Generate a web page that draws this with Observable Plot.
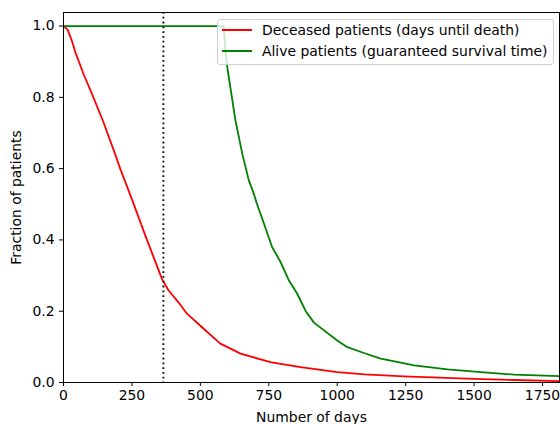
<!DOCTYPE html>
<html>
<head>
<meta charset="utf-8">
<script src="https://cdn.jsdelivr.net/npm/d3@7"></script>
<script src="https://cdn.jsdelivr.net/npm/@observablehq/plot@0.6"></script>
<style>
  html, body { margin: 0; padding: 0; background: white; }
  #wrap { position: relative; width: 560px; height: 424px; overflow: hidden; font-family: "DejaVu Sans", sans-serif; }
  #legend { position: absolute; left: 217px; top: 19px; width: 337px; height: 46px; border: 1px solid #d0d0d0; border-radius: 3px; background: rgba(255,255,255,0.8); box-sizing: border-box; }
  .row { position: absolute; left: 0; height: 18px; font-size: 13.9px; color: black; white-space: nowrap; }
  .sw { position: absolute; left: 4px; width: 30px; height: 2px; }
  .lab { position: absolute; left: 44px; top: 0; line-height: 18px; }
</style>
</head>
<body>
<div id="wrap">
  <div id="chart"></div>
  <div id="legend"></div>
</div>
<script>
// Deceased patients: days until death
const deceasedDays = [0, 15, 30, 43, 75, 104, 146, 189, 207, 247, 281, 299, 340, 360, 384, 420, 451, 506, 573, 647, 756, 793, 866, 1000, 1100, 1243, 1500, 1650, 1812];
const deceasedFraction = [1.0, 0.99, 0.96, 0.927, 0.862, 0.81, 0.73, 0.64, 0.60, 0.52, 0.45, 0.412, 0.33, 0.29, 0.258, 0.225, 0.193, 0.155, 0.109, 0.081, 0.057, 0.052, 0.043, 0.029, 0.023, 0.017, 0.010, 0.007, 0.004];
// Alive patients: guaranteed survival time
const aliveDays = [0, 585, 592, 600, 628, 653, 677, 695, 705, 728, 762, 793, 823, 854, 885, 915, 1000, 1037, 1100, 1159, 1281, 1403, 1525, 1647, 1812];
const aliveFraction = [1.0, 1.0, 0.923, 0.876, 0.736, 0.642, 0.567, 0.53, 0.505, 0.455, 0.38, 0.338, 0.287, 0.249, 0.2, 0.168, 0.118, 0.099, 0.082, 0.067, 0.048, 0.037, 0.029, 0.022, 0.018];
const xTicks = [0, 250, 500, 750, 1000, 1250, 1500, 1750];
const yTicks = [0, 0.2, 0.4, 0.6, 0.8, 1.0];
const cutoffDays = [365];
const seriesNames = ["Deceased patients (days until death)", "Alive patients (guaranteed survival time)"];
const seriesColors = ["red", "green"];

const deceased = deceasedDays.map((d, i) => ({x: d, y: deceasedFraction[i]}));
const alive = aliveDays.map((d, i) => ({x: d, y: aliveFraction[i]}));

const chart = Plot.plot({
  width: 560,
  height: 424,
  marginLeft: 63,
  marginRight: 1,
  marginTop: 12,
  marginBottom: 42,
  style: {fontFamily: "DejaVu Sans, sans-serif", fontSize: "13.9px", color: "black", background: "white"},
  x: {domain: [0, 1812], ticks: xTicks, tickFormat: "d", label: "Number of days", labelAnchor: "center", labelArrow: "none", tickSize: 4, tickPadding: 4, labelOffset: 39},
  y: {domain: [0, 1.038], ticks: yTicks, tickFormat: ".1f", label: "Fraction of patients", labelAnchor: "center", labelArrow: "none", tickSize: 4, tickPadding: 5, labelOffset: 52},
  marks: [
    Plot.line(deceased, {x: "x", y: "y", stroke: seriesColors[0], strokeWidth: 1.8, clip: true}),
    Plot.line(alive, {x: "x", y: "y", stroke: seriesColors[1], strokeWidth: 1.8, clip: true}),
    Plot.ruleX(cutoffDays, {stroke: "black", strokeWidth: 1.8, strokeDasharray: "1.8,3"}),
    Plot.frame({stroke: "black", strokeWidth: 1})
  ]
});
document.getElementById("chart").appendChild(chart);

const legend = document.getElementById("legend");
seriesNames.forEach((name, i) => {
  const row = document.createElement("div");
  row.className = "row";
  row.style.top = (i === 0 ? 1 : 22) + "px";
  row.style.width = "100%";
  const sw = document.createElement("div");
  sw.className = "sw";
  sw.style.top = "8px";
  sw.style.background = seriesColors[i];
  const lab = document.createElement("div");
  lab.className = "lab";
  lab.textContent = name;
  row.appendChild(sw);
  row.appendChild(lab);
  legend.appendChild(row);
});
</script>
</body>
</html>
